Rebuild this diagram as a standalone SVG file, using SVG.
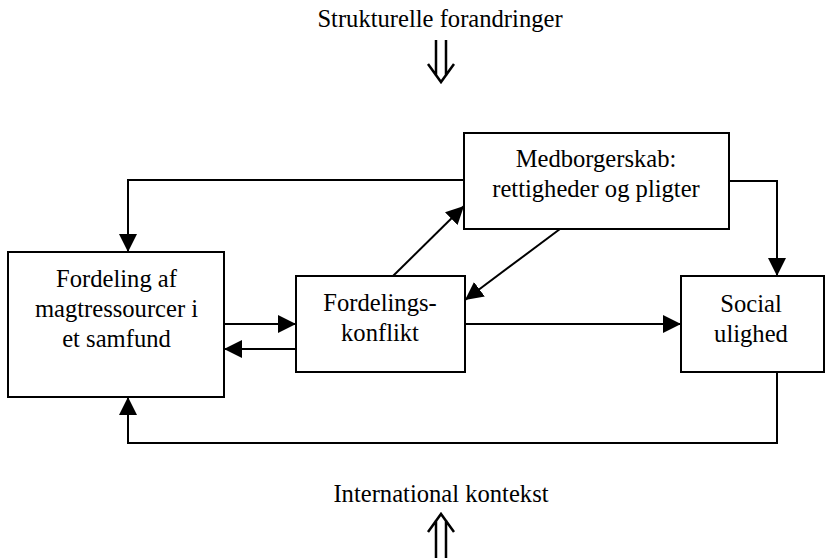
<svg xmlns="http://www.w3.org/2000/svg" width="826" height="558" viewBox="0 0 826 558">
<defs>
<style>
.box{fill:#fff;stroke:#000;stroke-width:2}
.t{font-family:'Liberation Serif','DejaVu Serif',serif;font-size:24.6px;fill:#000;text-anchor:middle}
.c{fill:none;stroke:#000;stroke-width:2}
.dbl{fill:none;stroke:#000;stroke-width:2.5}
</style>
<marker id="ah" viewBox="0 0 18 18" refX="18" refY="9" markerWidth="18" markerHeight="18" markerUnits="userSpaceOnUse" orient="auto">
<path d="M0,0 L18,9 L0,18 Z" fill="#000"/>
</marker>
</defs>
<rect width="826" height="558" fill="#fff"/>
<g id="top-label">
<text class="t" x="440" y="27">Strukturelle forandringer</text>
<path class="dbl" d="M436,40 V76 M446,40 V76 M428,64 L441,82 L454,64"/>
</g>
<g id="bottom-label">
<text class="t" x="441" y="502">International kontekst</text>
<path class="dbl" d="M436,520 V558 M446,520 V558 M428,532 L441,514 L454,532"/>
</g>
<g id="node-magt">
<rect class="box" x="8" y="252" width="216" height="145"/>
<text class="t" x="116.5" y="287">Fordeling af</text>
<text class="t" x="116.5" y="317">magtressourcer i</text>
<text class="t" x="116.5" y="347">et samfund</text>
</g>
<g id="node-konflikt">
<rect class="box" x="296" y="276" width="169" height="96"/>
<text class="t" x="380" y="311">Fordelings-</text>
<text class="t" x="380" y="341">konflikt</text>
</g>
<g id="node-medborger">
<rect class="box" x="464" y="133" width="265" height="96"/>
<text class="t" x="596" y="167">Medborgerskab:</text>
<text class="t" x="596" y="197">rettigheder og pligter</text>
</g>
<g id="node-social">
<rect class="box" x="681" y="276" width="143" height="96"/>
<text class="t" x="751" y="312">Social</text>
<text class="t" x="751" y="342">ulighed</text>
</g>
<g id="connectors">
<path class="c" marker-end="url(#ah)" d="M464,180 H128 V252"/>
<path class="c" marker-end="url(#ah)" d="M729,181 H777 V276"/>
<path class="c" marker-end="url(#ah)" d="M777,372 V443 H128 V397"/>
<path class="c" marker-end="url(#ah)" d="M224,324 H296"/>
<path class="c" marker-end="url(#ah)" d="M296,349 H224"/>
<path class="c" marker-end="url(#ah)" d="M465,324 H681"/>
<path class="c" marker-end="url(#ah)" d="M393,276 L464,206"/>
<path class="c" marker-end="url(#ah)" d="M560,229 L465,300"/>
</g>
</svg>
